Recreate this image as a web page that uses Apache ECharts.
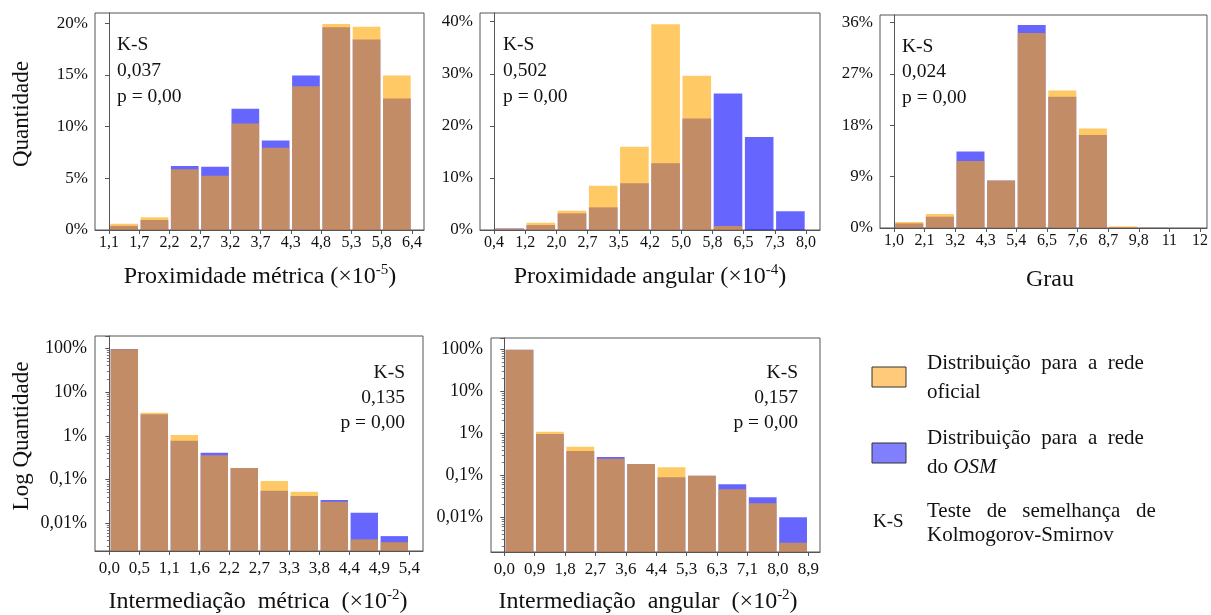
<!DOCTYPE html>
<html><head><meta charset="utf-8">
<script src="https://cdn.jsdelivr.net/npm/echarts@6/dist/echarts.min.js"></script>
<style>html,body{margin:0;padding:0;background:#fff}#c{width:1211px;height:615px}</style>
</head><body><div id="c"></div>
<script>
// ---------- DATA ----------
const ticksProxMetrica = ['1,1','1,7','2,2','2,7','3,2','3,7','4,3','4,8','5,3','5,8','6,4'];
const proxMetricaOficial = [0.6, 1.23, 5.86, 5.25, 10.3, 7.95, 13.88, 19.9, 19.65, 14.94];
const proxMetricaOSM     = [0.4, 0.97, 6.18, 6.12, 11.72, 8.66, 14.94, 19.6, 18.4, 12.7];

const ticksProxAngular = ['0,4','1,2','2,0','2,7','3,5','4,2','5,0','5,8','6,5','7,3','8,0'];
const proxAngularOficial = [0.25, 1.4, 3.7, 8.5, 16.0, 39.5, 29.6, 0.77, 0, 0];
const proxAngularOSM     = [0.3, 0.96, 3.2, 4.35, 8.96, 12.8, 21.4, 26.2, 17.85, 3.6];

const ticksGrau = ['1,0','2,1','3,2','4,3','5,4','6,5','7,6','8,7','9,8','11','12'];
const grauOficial = [1.05, 2.45, 11.73, 8.34, 34.2, 24.1, 17.45, 0.28, 0.04, 0];
const grauOSM     = [0.8, 1.98, 13.4, 8.34, 35.6, 23.0, 16.3, 0.12, 0.03, 0];

const ticksIntMetrica = ['0,0','0,5','1,1','1,6','2,2','2,7','3,3','3,8','4,4','4,9','5,4'];
const intMetricaOficial = [95, 3.37, 1.04, 0.358, 0.184, 0.093, 0.0527, 0.0312, 0.0043, 0.0037];
const intMetricaOSM     = [96, 3.1, 0.77, 0.41, 0.184, 0.0556, 0.042, 0.0341, 0.0175, 0.0051];

const ticksIntAngular = ['0,0','0,9','1,8','2,7','3,6','4,4','5,3','6,3','7,1','8,0','8,9'];
const intAngularOficial = [98, 1.09, 0.48, 0.248, 0.186, 0.155, 0.0977, 0.0464, 0.0215, 0.00248];
const intAngularOSM     = [98, 0.96, 0.38, 0.273, 0.186, 0.0895, 0.0977, 0.061, 0.030, 0.010];

const yTicksProxMetrica = [0, 5, 10, 15, 20];
const yTicksProxAngular = [0, 10, 20, 30, 40];
const yTicksGrau = [0, 9, 18, 27, 36];
const logTickValues = [0.01, 0.1, 1, 10, 100];
const logTickLabels = ['0,01%', '0,1%', '1%', '10%', '100%'];

const ksProxMetrica = ['K-S', '0,037', 'p = 0,00'];
const ksProxAngular = ['K-S', '0,502', 'p = 0,00'];
const ksGrau = ['K-S', '0,024', 'p = 0,00'];
const ksIntMetrica = ['K-S', '0,135', 'p = 0,00'];
const ksIntAngular = ['K-S', '0,157', 'p = 0,00'];

// ---------- STYLE ----------
const FONT = "'Liberation Serif', 'Times New Roman', serif";
const BLUE = 'rgba(0,0,255,0.6)';
const ORANGE = 'rgba(255,165,0,0.6)';
const AXC = '#555';
const TXT = '#111';
const GAP = 1.3;

const panels = [
  {grid:{left:95, top:13, width:329, height:217}, xr:[-0.462, 10.396], ticks:ticksProxMetrica, of:proxMetricaOficial, osm:proxMetricaOSM, y:{type:'value', min:0, max:20.97, ticks:yTicksProxMetrica}},
  {grid:{left:480, top:13, width:340, height:217}, xr:[-0.449, 10.449], ticks:ticksProxAngular, of:proxAngularOficial, osm:proxAngularOSM, y:{type:'value', min:0, max:41.67, ticks:yTicksProxAngular}},
  {grid:{left:880, top:15, width:328, height:213}, xr:[-0.456, 10.228], ticks:ticksGrau, of:grauOficial, osm:grauOSM, y:{type:'value', min:0, max:37.35, ticks:yTicksGrau}},
  {grid:{left:95, top:336, width:328, height:215}, xr:[-0.477, 10.457], ticks:ticksIntMetrica, of:intMetricaOficial, osm:intMetricaOSM, y:{type:'log', min:0.00233, max:191}},
  {grid:{left:491, top:338, width:329, height:214}, xr:[-0.4375, 10.385], ticks:ticksIntAngular, of:intAngularOficial, osm:intAngularOSM, y:{type:'log', min:0.00149, max:186}}
];

function barRender(color) {
  return function (params, api) {
    const v = api.value(1);
    if (!(v > 0)) return null;
    const i = api.value(0);
    const a = api.coord([i, v]);
    const b = api.coord([i + 1, v]);
    const cs = params.coordSys;
    const bottom = cs.y + cs.height;
    return {type:'rect', shape:{x:a[0] + GAP, y:a[1], width:b[0] - a[0] - 2 * GAP, height:bottom - a[1]}, style:{fill:color}};
  };
}

const grids = [], xAxes = [], yAxes = [], series = [];
panels.forEach(function (p, k) {
  grids.push(Object.assign({show:true, borderColor:AXC, borderWidth:1, backgroundColor:'transparent'}, p.grid));
  const idx = p.ticks.map(function (_, i) { return i; });
  xAxes.push({
    type:'value', gridIndex:k, min:p.xr[0], max:p.xr[1],
    axisLine:{show:true, onZero:false, lineStyle:{color:AXC}},
    axisTick:{show:true, customValues:idx, length:4, lineStyle:{color:AXC}},
    axisLabel:{customValues:idx, formatter:function (v) { return p.ticks[Math.round(v)]; }, fontSize:k < 3 ? 16 : 17, fontFamily:FONT, color:TXT, margin:k < 3 ? 5 : 9},
    splitLine:{show:false}
  });
  if (p.y.type === 'value') {
    yAxes.push({
      type:'value', gridIndex:k, min:p.y.min, max:p.y.max,
      axisLine:{show:true, lineStyle:{color:AXC}},
      axisTick:{show:true, customValues:p.y.ticks, length:4, lineStyle:{color:AXC}},
      axisLabel:{customValues:p.y.ticks, formatter:function (v) { return v + '%'; }, fontSize:17, fontFamily:FONT, color:TXT, margin:7},
      splitLine:{show:false}
    });
  } else {
    yAxes.push({
      type:'log', logBase:10, gridIndex:k, min:p.y.min, max:p.y.max,
      axisLine:{show:true, lineStyle:{color:AXC}},
      axisTick:{show:true, length:4, lineStyle:{color:AXC}},
      minorTick:{show:true, splitNumber:9, length:2.5, lineStyle:{color:'#777'}},
      axisLabel:{formatter:function (v) {
        const l = Math.log10(v);
        for (let j = 0; j < logTickValues.length; j++) {
          if (Math.abs(l - Math.log10(logTickValues[j])) < 1e-6) return logTickLabels[j];
        }
        return '';
      }, fontSize:18, fontFamily:FONT, color:TXT, margin:8},
      splitLine:{show:false}
    });
  }
  series.push({type:'custom', xAxisIndex:k, yAxisIndex:k, renderItem:barRender(BLUE), clip:true, silent:true,
    data:p.osm.map(function (v, i) { return [i, v]; }).filter(function (d) { return d[1] > 0; })});
  series.push({type:'custom', xAxisIndex:k, yAxisIndex:k, renderItem:barRender(ORANGE), clip:true, silent:true,
    data:p.of.map(function (v, i) { return [i, v]; }).filter(function (d) { return d[1] > 0; })});
});

const rich = {
  n:{fontSize:24, fontFamily:FONT, color:TXT, lineHeight:28},
  s:{fontSize:15, fontFamily:FONT, color:TXT, lineHeight:15, verticalAlign:'top'},
  it:{fontSize:21, fontFamily:FONT, color:TXT, fontStyle:'italic'},
  r:{fontSize:21, fontFamily:FONT, color:TXT}
};
function txt(x, y, text, opts) {
  return {type:'text', x:x, y:y, rotation:(opts && opts.rotation) || 0, silent:true,
    style:Object.assign({text:text, fontSize:19, fontFamily:FONT, fill:TXT, align:'left', verticalAlign:'middle', rich:rich}, opts && opts.style)};
}
const graphics = [];
function ksBlock(lines, x, ys, align) {
  lines.forEach(function (t, i) { graphics.push(txt(x, ys[i], t, {style:{align:align, fontSize:19.5}})); });
}
ksBlock(ksProxMetrica, 117, [45, 71, 97], 'left');
ksBlock(ksProxAngular, 503, [45, 71, 97], 'left');
ksBlock(ksGrau, 902, [47, 72, 98], 'left');
ksBlock(ksIntMetrica, 405, [373, 398, 423], 'right');
ksBlock(ksIntAngular, 798, [373, 398, 423], 'right');

const nameStyle = {align:'center', fontSize:24};
graphics.push(txt(260, 277, '{n|Proximidade métrica (×10}{s|-5}{n|)}', {style:nameStyle}));
graphics.push(txt(650, 277, '{n|Proximidade angular (×10}{s|-4}{n|)}', {style:nameStyle}));
graphics.push(txt(1050, 280, '{n|Grau}', {style:nameStyle}));
graphics.push(txt(258, 602, '{n|Intermediação  métrica  (×10}{s|-2}{n|)}', {style:nameStyle}));
graphics.push(txt(648, 602, '{n|Intermediação  angular  (×10}{s|-2}{n|)}', {style:nameStyle}));
graphics.push(txt(22, 114, 'Quantidade', {rotation:Math.PI / 2, style:{align:'center', fontSize:23}}));
graphics.push(txt(22, 436, 'Log Quantidade', {rotation:Math.PI / 2, style:{align:'center', fontSize:23}}));

// legend
graphics.push({type:'rect', shape:{x:872, y:367, width:34, height:20}, style:{fill:'#FFCA7A', stroke:'#333', lineWidth:1}, silent:true});
graphics.push({type:'rect', shape:{x:872, y:443, width:34, height:20}, style:{fill:'#8080FF', stroke:'#333', lineWidth:1}, silent:true});
graphics.push(txt(927, 363, 'Distribuição  para  a  rede', {style:{fontSize:21}}));
graphics.push(txt(927, 392, 'oficial', {style:{fontSize:21}}));
graphics.push(txt(927, 438, 'Distribuição  para  a  rede', {style:{fontSize:21}}));
graphics.push(txt(927, 467, '{r|do }{it|OSM}', {style:{fontSize:21}}));
graphics.push(txt(873, 522, 'K-S', {style:{fontSize:19}}));
graphics.push(txt(927, 511, 'Teste   de   semelhança   de', {style:{fontSize:21}}));
graphics.push(txt(927, 535, 'Kolmogorov-Smirnov', {style:{fontSize:21}}));

const chart = echarts.init(document.getElementById('c'), null, {renderer:'canvas'});
chart.setOption({
  animation:false,
  backgroundColor:'#fff',
  grid:grids, xAxis:xAxes, yAxis:yAxes, series:series,
  graphic:{elements:graphics}
});
</script></body></html>
